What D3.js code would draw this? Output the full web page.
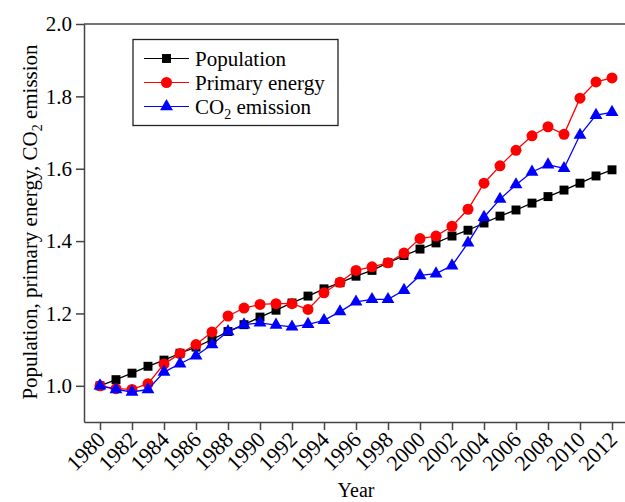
<!DOCTYPE html>
<html>
<head>
<meta charset="utf-8">
<script src="https://cdn.jsdelivr.net/npm/d3@7"></script>
<style>
  body { margin: 0; background: #fff; }
  text { font-family: "Liberation Serif", "Times New Roman", serif; fill: #000; }
</style>
</head>
<body>
<div id="chart"></div>
<script>
var years = [1980, 1981, 1982, 1983, 1984, 1985, 1986, 1987, 1988, 1989, 1990,
             1991, 1992, 1993, 1994, 1995, 1996, 1997, 1998, 1999, 2000, 2001,
             2002, 2003, 2004, 2005, 2006, 2007, 2008, 2009, 2010, 2011, 2012];

var population = [1.000, 1.017, 1.035, 1.054, 1.071, 1.090, 1.107, 1.128, 1.150, 1.169, 1.190,
                  1.209, 1.229, 1.248, 1.268, 1.285, 1.303, 1.319, 1.340, 1.360, 1.378, 1.395,
                  1.414, 1.430, 1.450, 1.469, 1.486, 1.505, 1.523, 1.541, 1.560, 1.580, 1.597];

var primaryEnergy = [1.000, 0.992, 0.990, 1.006, 1.060, 1.089, 1.114, 1.149, 1.193, 1.215, 1.225,
                     1.227, 1.227, 1.211, 1.257, 1.286, 1.319, 1.329, 1.340, 1.367, 1.407, 1.414,
                     1.441, 1.488, 1.560, 1.608, 1.651, 1.691, 1.716, 1.695, 1.795, 1.840, 1.851];

var co2Emission = [1.000, 0.990, 0.983, 0.990, 1.038, 1.061, 1.083, 1.114, 1.150, 1.169, 1.174,
                   1.168, 1.163, 1.170, 1.181, 1.205, 1.232, 1.239, 1.239, 1.264, 1.305, 1.310,
                   1.332, 1.395, 1.466, 1.516, 1.556, 1.591, 1.611, 1.601, 1.693, 1.748, 1.756];

var xTicks = [1980, 1982, 1984, 1986, 1988, 1990, 1992, 1994, 1996, 1998, 2000,
              2002, 2004, 2006, 2008, 2010, 2012];
var yTicks = [1.0, 1.2, 1.4, 1.6, 1.8, 2.0];

var width = 625,
    height = 502,
    plotLeft = 84,
    plotTop = 24,
    plotRight = 628,
    plotBottom = 422;

var series = [
  { name: 'Population', values: population, color: '#000', symbol: d3.symbolSquare, size: 80 },
  { name: 'Primary energy', values: primaryEnergy, color: '#ff0000', symbol: d3.symbolCircle, size: 95 },
  { name: 'CO2 emission', values: co2Emission, color: '#0000ff', symbol: d3.symbolTriangle, size: 72 }
];

var x = d3.scaleLinear().domain([1979, 2013]).range([plotLeft, plotRight]);
var y = d3.scaleLinear().domain([0.9, 2.0]).range([plotBottom, plotTop]);

var svg = d3.select('#chart').append('svg')
    .attr('width', width)
    .attr('height', height);

// frame top line
svg.append('line')
    .attr('x1', plotLeft).attr('x2', plotRight)
    .attr('y1', plotTop).attr('y2', plotTop)
    .attr('stroke', '#444').attr('stroke-width', 1.5);

var xAxis = svg.append('g')
    .attr('transform', 'translate(0,' + plotBottom + ')')
    .call(d3.axisBottom(x).tickValues(xTicks).tickSize(8).tickSizeOuter(0).tickFormat(d3.format('d')));
xAxis.selectAll('text')
    .attr('font-size', 22)
    .attr('text-anchor', 'end')
    .attr('y', 0).attr('dy', 0)
    .attr('transform', 'translate(6,19) rotate(-45)');

var yAxis = svg.append('g')
    .attr('transform', 'translate(' + plotLeft + ',0)')
    .call(d3.axisLeft(y).tickValues(yTicks).tickSize(8).tickSizeOuter(0).tickFormat(d3.format('.1f')));
yAxis.selectAll('text')
    .attr('font-size', 21)
    .attr('x', -12);

svg.selectAll('.domain, .tick line')
    .attr('stroke', '#444').attr('stroke-width', 1.5);

// axis titles
svg.append('text')
    .attr('x', (plotLeft + plotRight) / 2)
    .attr('y', 497)
    .attr('text-anchor', 'middle')
    .attr('font-size', 20)
    .text('Year');

var yTitle = svg.append('text')
    .attr('transform', 'translate(37,222) rotate(-90)')
    .attr('text-anchor', 'middle')
    .attr('font-size', 21);
yTitle.append('tspan').text('Population, primary energy, CO');
yTitle.append('tspan').attr('font-size', 14).attr('dy', 5).text('2');
yTitle.append('tspan').attr('dy', -5).text(' emission');

var line = d3.line()
    .x(function(d, i) { return x(years[i]); })
    .y(function(d) { return y(d); });

series.forEach(function(s) {
  svg.append('path')
      .datum(s.values)
      .attr('d', line)
      .attr('fill', 'none')
      .attr('stroke', s.color)
      .attr('stroke-width', 1.3);
  svg.selectAll(null).data(s.values)
    .enter().append('path')
      .attr('d', d3.symbol().type(s.symbol).size(s.size))
      .attr('transform', function(d, i) {
        return 'translate(' + x(years[i]) + ',' + y(d) + ')';
      })
      .attr('fill', s.color);
});

// legend
var legend = svg.append('g');
legend.append('rect')
    .attr('x', 133).attr('y', 39.5)
    .attr('width', 205).attr('height', 86)
    .attr('fill', '#fff')
    .attr('stroke', '#222').attr('stroke-width', 1.3);

var rows = legend.selectAll('g').data(series)
  .enter().append('g')
    .attr('transform', function(d, i) { return 'translate(0,' + (58.5 + i * 24) + ')'; });
rows.append('line')
    .attr('x1', 144).attr('x2', 189)
    .attr('stroke', function(d) { return d.color; })
    .attr('stroke-width', 1.2);
rows.append('path')
    .attr('d', function(d) { return d3.symbol().type(d.symbol).size(d.size)(); })
    .attr('transform', 'translate(166.5,0)')
    .attr('fill', function(d) { return d.color; });
var labels = rows.append('text')
    .attr('x', 195)
    .attr('y', 7)
    .attr('font-size', 21);
labels.each(function(d) {
  var t = d3.select(this);
  if (d.name === 'CO2 emission') {
    t.append('tspan').text('CO');
    t.append('tspan').attr('font-size', 14).attr('dy', 5).text('2');
    t.append('tspan').attr('dy', -5).text(' emission');
  } else {
    t.text(d.name);
  }
});
</script>
</body>
</html>
